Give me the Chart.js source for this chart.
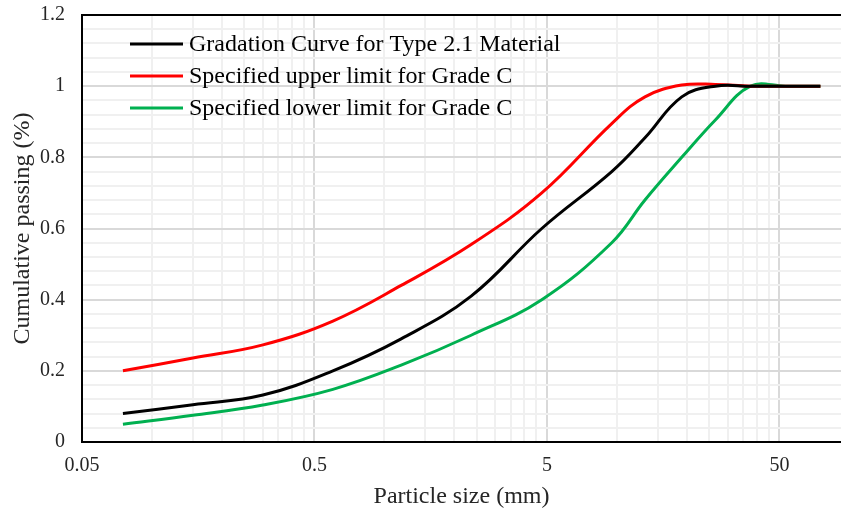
<!DOCTYPE html>
<html>
<head>
<meta charset="utf-8">
<script src="https://cdn.jsdelivr.net/npm/chart.js@4/dist/chart.umd.min.js"></script>
<style>
  html, body { margin: 0; padding: 0; background: #fff; }
  #wrap { width: 841px; height: 513px; position: relative; }
</style>
</head>
<body>
<div id="wrap"><canvas id="chart"></canvas></div>
<script>
// sieve sizes (mm) and cumulative passing fractions
const sizes = [0.075, 0.15, 0.3, 0.6, 1.18, 2.36, 4.75, 9.5, 13.2, 19, 26.5, 37.5, 53, 75];
const gradation = [0.08, 0.105, 0.132, 0.2, 0.29, 0.41, 0.6, 0.76, 0.855, 0.97, 1.0, 1.0, 1.0, 1.0];
const upperLimit = [0.2, 0.236, 0.273, 0.34, 0.44, 0.555, 0.7, 0.895, 0.97, 1.003, 1.005, 1.0, 1.0, 1.0];
const lowerLimit = [0.05, 0.075, 0.104, 0.148, 0.216, 0.3, 0.4, 0.56, 0.68, 0.8, 0.905, 1.0, 1.0, 1.0];

const seriesNames = ['Gradation Curve for Type 2.1 Material', 'Specified upper limit for Grade C', 'Specified lower limit for Grade C'];
const xTickLabels = ['0.05', '0.5', '5', '50'];
const yTickLabels = ['0', '0.2', '0.4', '0.6', '0.8', '1', '1.2'];

const FONT = "'Liberation Serif', 'Times New Roman', serif";
Chart.defaults.font.family = FONT;
Chart.defaults.color = '#262626';

const pts = arr => sizes.map((s, i) => ({ x: s, y: arr[i] }));

// log axis: major at each labelled decade, minor every 1/10 decade step (Excel style)
const xMajor = xTickLabels.map(Number);
const xTicks = [];
for (let d = 0; d < xMajor.length - 1; d++) {
  for (let k = 1; k < 10; k++) xTicks.push(+(xMajor[d] * k).toPrecision(6));
}
xTicks.push(xMajor[xMajor.length - 1]);

const yTicks = [];
for (let i = 0; i <= 30; i++) yTicks.push(+(i * 0.04).toFixed(2));
const yMajor = yTickLabels.map(Number);

const isMajorX = v => xMajor.some(m => Math.abs(m - v) < 1e-9);
const isMajorY = v => yMajor.some(m => Math.abs(m - v) < 1e-6);

const frame = {
  id: 'frame',
  afterDatasetsDraw(chart) {
    const { ctx, chartArea: a } = chart;
    ctx.save();
    ctx.strokeStyle = '#000';
    ctx.lineWidth = 2;
    ctx.beginPath();
    ctx.moveTo(a.left, a.top);
    ctx.lineTo(a.right, a.top);
    ctx.stroke();
    ctx.restore();
  },
  afterDraw(chart) {
    // legend inside the plot, top left
    const { ctx } = chart;
    ctx.save();
    ctx.font = '24px ' + FONT;
    ctx.textBaseline = 'middle';
    chart.data.datasets.forEach((ds, i) => {
      const y = 44 + i * 32;
      ctx.strokeStyle = ds.borderColor;
      ctx.lineWidth = 3;
      ctx.beginPath();
      ctx.moveTo(130, y);
      ctx.lineTo(183, y);
      ctx.stroke();
      ctx.fillStyle = '#000';
      ctx.fillText(ds.label, 189, y + 1);
    });
    ctx.restore();
  }
};

new Chart(document.getElementById('chart'), {
  type: 'line',
  data: {
    datasets: [
      { label: seriesNames[0], data: pts(gradation), borderColor: '#000000' },
      { label: seriesNames[1], data: pts(upperLimit), borderColor: '#ff0000' },
      { label: seriesNames[2], data: pts(lowerLimit), borderColor: '#00b050' },
    ].map(d => ({ ...d, borderWidth: 3, pointRadius: 0, tension: 0.4, fill: false }))
  },
  options: {
    responsive: true,
    maintainAspectRatio: false,
    animation: false,
    layout: { padding: { top: 15, right: 0, left: 0, bottom: 0 } },
    plugins: { legend: { display: false }, tooltip: { enabled: false } },
    scales: {
      x: {
        type: 'logarithmic',
        min: 0.05,
        max: 92,
        afterBuildTicks: s => { s.ticks = xTicks.map(v => ({ value: v })); },
        afterFit: s => { s.height = 71; },
        ticks: {
          autoSkip: false, maxRotation: 0, padding: 12,
          font: { size: 20 }, color: '#262626',
          callback: v => isMajorX(v) ? xTickLabels[xMajor.findIndex(m => Math.abs(m - v) < 1e-9)] : ''
        },
        grid: {
          drawTicks: false,
          color: c => isMajorX(c.tick.value) ? '#d9d9d9' : '#f0f0f0',
          lineWidth: 2
        },
        border: { color: '#000', width: 2 },
        title: { display: true, text: 'Particle size (mm)', font: { size: 24 }, color: '#262626', padding: { top: 0, bottom: 2 } }
      },
      y: {
        min: 0,
        max: 1.2,
        afterBuildTicks: s => { s.ticks = yTicks.map(v => ({ value: v })); },
        afterFit: s => { s.width = 82; s.paddingTop = 0; s.paddingBottom = 0; },
        ticks: {
          autoSkip: false, padding: 17,
          font: { size: 20 }, color: '#262626',
          callback: v => isMajorY(v) ? yTickLabels[yMajor.findIndex(m => Math.abs(m - v) < 1e-6)] : ''
        },
        grid: {
          drawTicks: false,
          color: c => isMajorY(c.tick.value) ? '#d9d9d9' : '#f0f0f0',
          lineWidth: 2
        },
        border: { color: '#000', width: 2 },
        title: { display: true, text: 'Cumulative passing (%)', font: { size: 24 }, color: '#262626', padding: { top: 8, bottom: 0 } }
      }
    }
  },
  plugins: [frame]
});
</script>
</body>
</html>
